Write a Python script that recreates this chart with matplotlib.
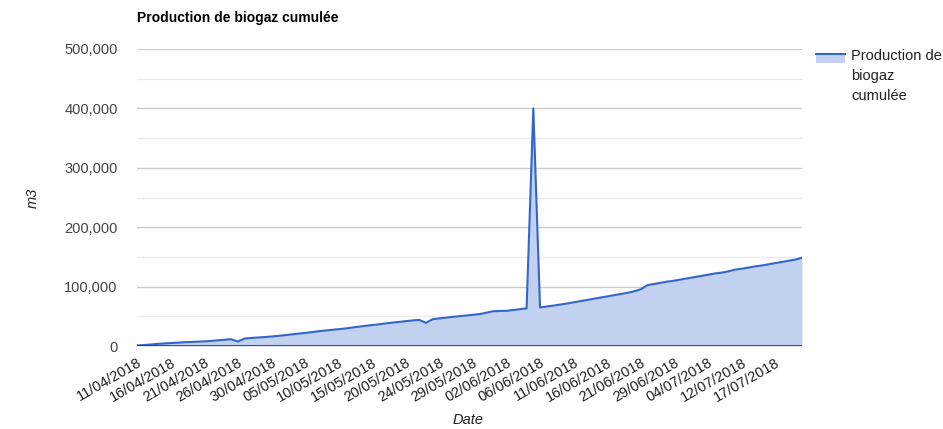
import matplotlib
matplotlib.use("Agg")
import matplotlib.pyplot as plt
from matplotlib.patches import Rectangle
from matplotlib.lines import Line2D

plt.rcParams['font.family'] = ['Liberation Sans', 'DejaVu Sans']

# Tick labels shown every 5 data points
tick_labels = ["11/04/2018", "16/04/2018", "21/04/2018", "26/04/2018", "30/04/2018",
               "05/05/2018", "10/05/2018", "15/05/2018", "20/05/2018", "24/05/2018",
               "29/05/2018", "02/06/2018", "06/06/2018", "11/06/2018", "16/06/2018",
               "21/06/2018", "29/06/2018", "04/07/2018", "12/07/2018", "17/07/2018"]

# Cumulative biogas production (m3), one value per record
production = [1000, 1500, 2500, 3500, 4200, 5000, 5600, 6300, 6800, 7300,
              7800, 8500, 9500, 10500, 11500, 7500, 12500, 13500, 14300, 15000,
              16000, 17000, 18200, 19500, 20800, 22000, 23300, 24800, 26000, 27200,
              28300, 29500, 31000, 32500, 34000, 35200, 36500, 38000, 39300, 40500,
              41800, 43000, 44000, 39000, 45000, 46500, 47800, 49000, 50200, 51300,
              52500, 53700, 56000, 58500, 59000, 59200, 60500, 62000, 63500, 400000,
              65000, 66500, 68000, 69800, 71500, 73500, 75500, 77500, 79500, 81500,
              83500, 85500, 87500, 89500, 92000, 95500, 102500, 104500, 106500, 108500,
              110000, 112000, 114000, 116000, 118000, 120000, 122000, 123500, 125500, 128500,
              130000, 132000, 134000, 135500, 137500, 139500, 141500, 143500, 145500, 148500]

series_name = "Production de\nbiogaz\ncumulée"
title = "Production de biogaz cumulée"
y_ticks = [0, 100000, 200000, 300000, 400000, 500000]

line_color = "#3366cc"
fill_color = "#c2d1f0"
text_color = "#444444"

W, H = 943, 429
fig = plt.figure(figsize=(W / 100, H / 100), dpi=100)
ax = fig.add_axes([137 / W, 1 - 346 / H, (802 - 137) / W, (346 - 49) / H])

x = list(range(len(production)))
ax.fill_between(x, 0, production, color=fill_color, linewidth=0, zorder=2)
ax.plot(x, production, color=line_color, linewidth=1.5, zorder=3)

ax.set_xlim(0, len(production) - 1)
ax.set_ylim(0, 500000)

# gridlines
for v in range(50000, 500001, 50000):
    col = "#cccccc" if v % 100000 == 0 else "#ebebeb"
    ax.axhline(v, color=col, linewidth=1, zorder=1)
ax.axhline(0, color="#333333", linewidth=1.2, zorder=4)

for s in ax.spines.values():
    s.set_visible(False)

ax.set_yticks(y_ticks)
ax.set_yticklabels([f"{v:,}" for v in y_ticks])
ax.tick_params(axis='y', length=0, pad=14, labelsize=10.5, labelcolor=text_color)

ax.set_xticks(list(range(0, len(production), 5)))
ax.set_xticklabels(tick_labels, rotation=30, ha='right', rotation_mode='anchor')
ax.tick_params(axis='x', length=0, pad=7, labelsize=10.5, labelcolor="#222222")

fig.text(137 / W, 1 - 18 / H, title, fontsize=10, fontweight='bold',
         ha='left', va='center', color='#000000')
fig.text(33 / W, 1 - 198 / H, "m3", fontsize=10.5, style='italic', rotation=90,
         ha='center', va='center', color="#222222")
fig.text(468 / W, 1 - 420 / H, "Date", fontsize=10.5, style='italic',
         ha='center', va='center', color="#222222")

# legend
fig.patches.append(Rectangle((816 / W, 1 - 63 / H), 29 / W, 10 / H,
                             transform=fig.transFigure, facecolor=fill_color,
                             edgecolor='none'))
fig.lines.append(Line2D([816 / W, 845 / W], [1 - 54 / H, 1 - 54 / H],
                        transform=fig.transFigure, color=line_color, linewidth=1.5))
for k, line in enumerate(series_name.split("\n")):
    fig.text(851 / W, 1 - (56 + 20 * k) / H, line, fontsize=10.5,
             ha='left', va='center', color="#222222")

fig.savefig("out.png", dpi=100)
